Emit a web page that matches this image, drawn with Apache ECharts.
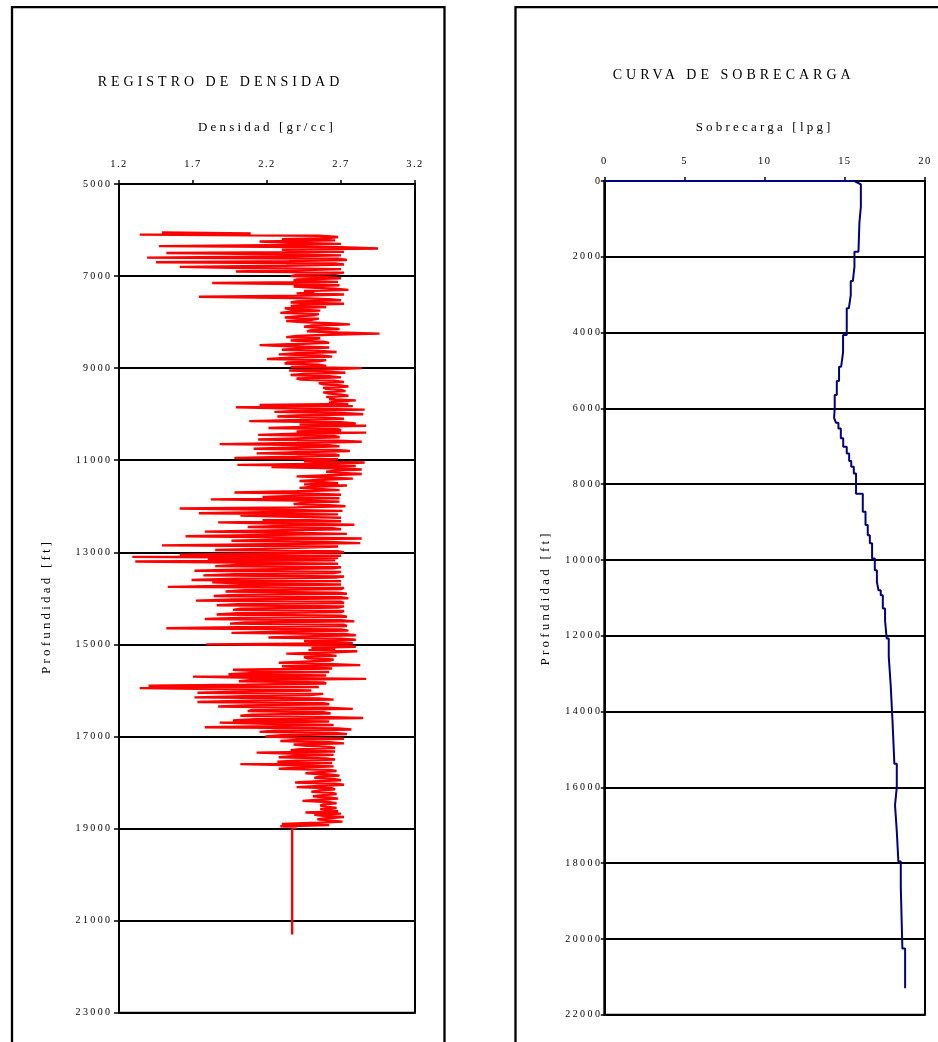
<!DOCTYPE html>
<html>
<head>
<meta charset="utf-8">
<script src="https://cdn.jsdelivr.net/npm/echarts@6/dist/echarts.min.js"></script>
<style>
html,body{margin:0;padding:0;background:#fff;}
#c{width:938px;height:1042px;}
</style>
</head>
<body>
<div id="c"></div>
<script>
// ---------------- DATA ----------------
// Density log (gr/cc): main samples every 50 ft starting at 6050 ft
var densProfInicio = 6050;
var densPaso = 50;
var densidad = [
  1.49,1.34,2.68,2.30,2.15,2.70,1.47,2.95,2.40,1.52, 2.70,1.39,2.74,1.45,2.72,1.61,2.70,1.99,2.66,2.36,
  2.70,2.38,1.83,2.69,2.50,2.75,2.52,2.72,1.74,2.62, 2.40,2.72,2.36,2.32,2.56,2.29,2.52,2.32,2.50,2.44,
  2.76,2.45,2.69,2.47,2.96,2.40,2.56,2.36,2.62,2.15, 2.62,2.30,2.67,2.28,2.64,2.20,2.55,2.32,2.60,2.84,
  2.35,2.73,2.36,2.70,2.43,2.72,2.58,2.75,2.60,2.73, 2.62,2.75,2.66,2.80,2.62,2.15,1.99,2.86,2.25,2.85,
  2.27,2.72,2.08,2.80,2.87,2.21,2.70,2.87,2.14,2.69, 2.14,2.84,1.88,2.69,2.11,2.76,2.13,2.69,1.98,2.67,
  2.86,2.00,2.23,2.84,2.60,2.84,2.40,2.78,2.42,2.68, 2.74,2.42,2.69,1.98,2.70,2.17,1.82,2.69,2.38,2.73,
  1.61,2.71,1.74,2.02,2.70,2.17,1.87,2.79,2.07,2.70, 1.78,2.74,1.65,2.84,1.96,2.83,1.49,2.67,1.85,2.72,
  1.61,1.29,1.80,1.31,2.68,1.85,2.64,1.71,2.65,1.77, 2.66,1.69,1.83,2.70,1.53,2.70,1.92,2.74,1.84,2.75,
  1.72,2.72,1.86,2.68,1.97,2.70,1.86,2.74,1.78,2.79, 1.95,2.74,1.52,2.75,1.96,2.80,2.21,2.80,2.66,1.79,
  2.80,2.66,2.81,2.33,2.67,2.47,2.63,2.28,2.83,2.45, 1.97,2.62,1.94,1.70,2.87,2.01,2.60,1.40,1.34,2.50,
  1.73,2.49,1.71,2.65,1.73,2.62,1.87,2.78,2.07,2.63, 2.02,2.85,1.97,1.88,2.65,1.78,2.77,2.15,2.74,2.19,
  2.72,2.29,2.72,2.45,2.66,2.36,2.13,2.65,2.28,2.66, 2.27,2.02,2.65,2.28,2.67,2.46,2.69,2.52,2.70,2.39,
  2.72,2.40,2.66,2.50,2.67,2.51,2.68,2.44,2.67,2.56, 2.67,2.60,2.46,2.52,2.72,2.54,2.71,2.30,2.29,2.37
];
// intermediate samples (25 ft below each main sample)
var densidadIntermedia = [
  2.09,2.55,2.62,2.66,2.35,2.40,2.70,2.30,2.72,2.33, 2.30,2.68,2.35,2.66,2.33,2.04,2.40,2.72,2.40,2.62,
  2.40,2.68,2.40,2.38,2.66,2.45,2.40,2.45,2.38,2.70, 2.36,2.45,2.60,2.38,2.36,2.55,2.40,2.55,2.33,2.62,
  2.50,2.44,2.50,2.68,2.62,2.33,2.50,2.58,2.40,2.35, 2.42,2.55,2.40,2.56,2.36,2.60,2.34,2.55,2.36,2.62,
  2.60,2.45,2.62,2.40,2.66,2.55,2.70,2.58,2.70,2.58, 2.70,2.60,2.62,2.66,2.75,2.78,2.40,2.45,2.70,2.40,
  2.60,2.42,2.70,2.42,2.45,2.68,2.40,2.40,2.66,2.40, 2.68,2.40,2.62,2.40,2.66,2.40,2.66,2.40,2.68,2.45,
  2.62,2.80,2.66,2.66,2.70,2.62,2.60,2.58,2.58,2.45, 2.52,2.55,2.40,2.50,2.38,2.69,2.40,2.45,2.62,2.40,
  2.25,2.28,2.68,2.30,2.45,2.70,2.25,2.30,2.64,2.22, 2.35,2.20,2.30,2.25,2.60,2.20,2.68,2.18,2.68,2.15,
  2.70,2.68,2.66,2.00,2.00,2.70,2.00,2.70,1.98,2.72, 2.00,2.70,2.02,1.98,2.72,2.05,2.68,2.00,2.70,1.98,
  2.70,2.00,2.72,2.02,2.72,2.00,2.70,2.02,2.70,2.05, 2.72,2.00,2.70,2.30,2.72,2.45,2.70,2.45,2.78,2.70,
  2.50,2.48,2.62,2.60,2.45,2.65,2.45,2.60,2.30,2.64, 2.10,2.08,2.60,2.10,2.10,2.58,2.06,2.55,2.00,2.05,
  2.58,2.05,2.55,2.08,2.58,2.05,2.60,2.10,2.58,2.10, 2.55,2.12,2.62,2.20,2.22,2.68,2.25,2.66,2.30,2.40,
  2.40,2.62,2.38,2.62,2.42,2.66,2.40,2.40,2.60,2.40, 2.64,2.38,2.45,2.62,2.55,2.62,2.55,2.65,2.52,2.66,
  2.55,2.64,2.55,2.64,2.58,2.62,2.55,2.62,2.58,2.60, 2.56,2.68,2.70,2.58,2.60,2.62,2.55,2.62,2.40
];
// constant tail of the log
var colaProf = [21300];
var colaDens = [2.37];

// Overburden curve (lpg): surface points, then steps (top depth, value)
var sobSupProf = [0, 0];
var sobSupVal = [0, 15.6];
var sobProf = [90, 680, 1100, 1865, 2260, 2640, 3010, 3360, 4065, 4520, 4900, 5280, 5650, 6000, 6050, 6250, 6380, 6530, 6790, 7010, 7190, 7390, 7540, 7720, 8250, 8730, 9080, 9350, 9560, 9960, 10270, 10580, 10800, 10930, 11280, 11600, 12070, 12550, 13300, 14220, 15380, 16000, 16470, 17150, 17960, 18630, 20250];
var sobVal = [16.0, 15.91, 15.85, 15.6, 15.5, 15.37, 15.25, 15.12, 14.89, 14.77, 14.64, 14.5, 14.37, 14.25, 14.33, 14.45, 14.6, 14.75, 14.9, 15.12, 15.27, 15.4, 15.56, 15.7, 16.12, 16.29, 16.43, 16.56, 16.7, 16.87, 17.0, 17.1, 17.24, 17.37, 17.51, 17.61, 17.74, 17.86, 17.97, 18.09, 18.24, 18.13, 18.24, 18.34, 18.49, 18.59, 18.76];
var sobFinalProf = 21300;

// Tick labels
var densTicks = [1.2, 1.7, 2.2, 2.7, 3.2];
var profTicksIzq = [5000, 7000, 9000, 11000, 13000, 15000, 17000, 19000, 21000, 23000];
var sobTicks = [0, 5, 10, 15, 20];
var profTicksDer = [0, 2000, 4000, 6000, 8000, 10000, 12000, 14000, 16000, 18000, 20000, 22000];

// ---------------- text spacing (canvas letter-spacing by font size) ----------------
var SPACING = {'14': 4, '13': 3.2, '10': 2.4, '10.5': 1.4};
(function () {
  var P = window.CanvasRenderingContext2D && CanvasRenderingContext2D.prototype;
  if (!P || !('letterSpacing' in P)) return;
  var orig = P.fillText;
  P.fillText = function (t, x, y, w) {
    var m = /(\d+(?:\.\d+)?)px/.exec(this.font);
    var s = m ? (SPACING[m[1]] || 0) : 0;
    var prev = this.letterSpacing;
    this.letterSpacing = s + 'px';
    if (w === undefined) orig.call(this, t, x, y); else orig.call(this, t, x, y, w);
    this.letterSpacing = prev;
  };
})();

// ---------------- build series data ----------------
var densData = [];
for (var n = 0; n < densidad.length; n++) {
  var d0 = densProfInicio + n * densPaso;
  densData.push([densidad[n], d0]);
  if (n < densidadIntermedia.length) densData.push([densidadIntermedia[n], d0 + densPaso / 2]);
}
for (var k = 0; k < colaProf.length; k++) densData.push([colaDens[k], colaProf[k]]);

var sobData = [];
for (var j = 0; j < sobSupProf.length; j++) sobData.push([sobSupVal[j], sobSupProf[j]]);
for (var i = 0; i < sobProf.length; i++) {
  var next = i + 1 < sobProf.length ? sobProf[i + 1] : sobFinalProf;
  sobData.push([sobVal[i], sobProf[i]]);
  sobData.push([sobVal[i], next]);
}

// ---------------- chart ----------------
var FF = "'Liberation Serif', 'Times New Roman', serif";
var BLACK = '#000';

function xAx(gi, ticks, name, gap, fmt) {
  return {
    gridIndex: gi, type: 'value', position: 'top',
    min: ticks[0], max: ticks[ticks.length - 1], interval: ticks[1] - ticks[0],
    name: name, nameLocation: 'middle', nameGap: gap,
    nameTextStyle: { fontFamily: FF, fontSize: 13, color: BLACK },
    axisLine: { show: true, onZero: false, lineStyle: { color: BLACK, width: 2 } },
    axisTick: { show: true, inside: false, length: 4, lineStyle: { color: BLACK, width: 1.5 } },
    axisLabel: { fontFamily: FF, fontSize: 10.5, color: BLACK, margin: 14, formatter: fmt },
    splitLine: { show: false }
  };
}
function yAx(gi, ticks, gap, margin, tickLen, namePad) {
  return {
    gridIndex: gi, type: 'value', inverse: true,
    min: ticks[0], max: ticks[ticks.length - 1], interval: ticks[1] - ticks[0],
    name: 'Profundidad [ft]', nameLocation: 'middle', nameGap: gap,
    nameTextStyle: { fontFamily: FF, fontSize: 13, color: BLACK, padding: namePad },
    axisLine: { show: true, onZero: false, lineStyle: { color: BLACK, width: 2 } },
    axisTick: { show: true, inside: false, length: tickLen, lineStyle: { color: BLACK, width: 1.5 } },
    axisLabel: { fontFamily: FF, fontSize: 10, color: BLACK, margin: margin,
      formatter: function (v) { return String(Math.round(v)); } },
    splitLine: { show: true, lineStyle: { color: BLACK, width: 2 } }
  };
}

var chart = echarts.init(document.getElementById('c'), null, { renderer: 'canvas' });
chart.setOption({
  animation: false,
  backgroundColor: '#fff',
  graphic: [
    { type: 'rect', silent: true, z: -10, shape: { x: 12, y: 7.2, width: 432.5, height: 1100 },
      style: { fill: null, stroke: BLACK, lineWidth: 2.3 } },
    { type: 'rect', silent: true, z: -10, shape: { x: 515.5, y: 7.2, width: 520, height: 1100 },
      style: { fill: null, stroke: BLACK, lineWidth: 2.3 } },
    { type: 'text', silent: true, x: 220.5, y: 82,
      style: { text: 'REGISTRO DE DENSIDAD', fontFamily: FF, fontSize: 14, fill: BLACK, align: 'center', verticalAlign: 'middle' } },
    { type: 'text', silent: true, x: 733.7, y: 75.5,
      style: { text: 'CURVA DE SOBRECARGA', fontFamily: FF, fontSize: 14, fill: BLACK, align: 'center', verticalAlign: 'middle' } }
  ],
  grid: [
    { left: 119, top: 184, width: 296, height: 828.7, show: true, borderColor: BLACK, borderWidth: 2, backgroundColor: 'rgba(0,0,0,0)' },
    { left: 604.3, top: 181, width: 320.7, height: 833.7, show: true, borderColor: BLACK, borderWidth: 2, backgroundColor: 'rgba(0,0,0,0)' }
  ],
  xAxis: [
    xAx(0, densTicks, 'Densidad [gr/cc]', 50, function (v) { return (+v).toFixed(1); }),
    xAx(1, sobTicks, 'Sobrecarga [lpg]', 47, function (v) { return String(Math.round(v)); })
  ],
  yAxis: [
    yAx(0, profTicksIzq, 66, 6.5, 5, [0, 16, 0, 0]),
    yAx(1, profTicksDer, 52, 2, 3.5, 0)
  ],
  series: [
    { type: 'line', xAxisIndex: 0, yAxisIndex: 0, data: densData, symbol: 'none', silent: true,
      lineStyle: { color: '#ff0000', width: 2.4, join: 'miter', miterLimit: 1 }, itemStyle: { color: '#ff0000' } },
    { type: 'line', xAxisIndex: 1, yAxisIndex: 1, data: sobData, symbol: 'none', silent: true,
      lineStyle: { color: '#000080', width: 2 }, itemStyle: { color: '#000080' } }
  ]
});
</script>
</body>
</html>
